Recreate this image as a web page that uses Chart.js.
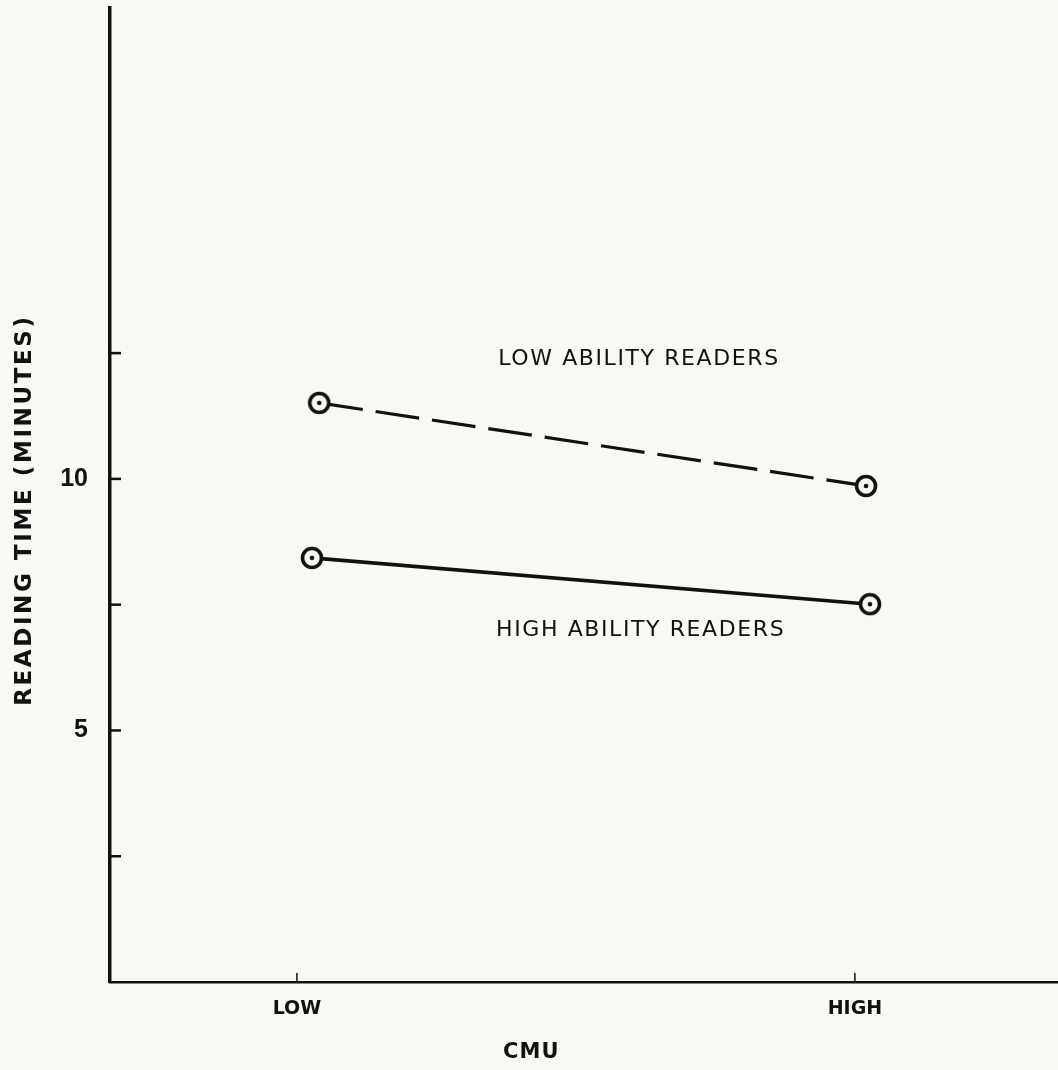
<!DOCTYPE html>
<html>
<head>
<meta charset="utf-8">
<script src="https://cdn.jsdelivr.net/npm/chart.js@4"></script>
<style>
  html, body { margin: 0; padding: 0; background: #f8f8f7; }
  #wrap { width: 1058px; height: 1070px; }
</style>
</head>
<body>
<div id="wrap"><canvas id="readingChart" width="1058" height="1070"></canvas></div>
<script>
// --- DATA ---
const cmuLevels = ['LOW', 'HIGH'];          // x tick labels at 1 and 2
const cmuTickValues = [1, 2];
const lowAbilityX = [1.04, 2.02];
const lowAbilityY = [11.51, 9.86];
const highAbilityX = [1.027, 2.027];
const highAbilityY = [8.43, 7.51];
const yTickValues = [2.5, 5, 7.5, 10, 12.5];
const yLabelValues = [5, 10];

const INK = '#111';
const PAPER = '#f8f8f7';

// circle with a dot in the middle
function makeMarker() {
  const c = document.createElement('canvas');
  c.width = 28; c.height = 28;
  const g = c.getContext('2d');
  g.beginPath();
  g.arc(14, 14, 9.5, 0, Math.PI * 2);
  g.fillStyle = PAPER;
  g.fill();
  g.lineWidth = 3.6;
  g.strokeStyle = INK;
  g.stroke();
  g.beginPath();
  g.arc(14, 14, 2.3, 0, Math.PI * 2);
  g.fillStyle = INK;
  g.fill();
  return c;
}
const marker = makeMarker();

// inward tick marks, axis titles and series labels
const handDrawn = {
  id: 'handDrawn',
  afterDatasetsDraw(chart) {
    const { ctx, scales: { x, y }, chartArea } = chart;
    ctx.save();
    ctx.strokeStyle = INK;
    ctx.lineWidth = 2.5;
    yTickValues.forEach(v => {
      const py = y.getPixelForValue(v);
      ctx.beginPath();
      ctx.moveTo(chartArea.left, py);
      ctx.lineTo(chartArea.left + 11, py);
      ctx.stroke();
    });
    ctx.lineWidth = 1.5;
    cmuTickValues.forEach(v => {
      const px = x.getPixelForValue(v);
      ctx.beginPath();
      ctx.moveTo(px, chartArea.bottom);
      ctx.lineTo(px, chartArea.bottom - 9);
      ctx.stroke();
    });
    ctx.fillStyle = INK;
    ctx.textAlign = 'center';
    ctx.textBaseline = 'middle';
    ctx.font = '22px "DejaVu Sans"';
    ctx.letterSpacing = '1.6px';
    ctx.fillText('LOW ABILITY READERS', x.getPixelForValue(1.613), y.getPixelForValue(12.37));
    ctx.fillText('HIGH ABILITY READERS', x.getPixelForValue(1.616), y.getPixelForValue(6.99));
    ctx.font = '600 21px "DejaVu Sans"';
    ctx.letterSpacing = '1px';
    ctx.fillText('CMU', x.getPixelForValue(1.42), 1053);
    ctx.translate(25, y.getPixelForValue(9.38));
    ctx.rotate(-Math.PI / 2);
    ctx.font = 'bold 23px "DejaVu Sans"';
    ctx.letterSpacing = '2.6px';
    ctx.fillText('READING TIME (MINUTES)', 0, 0);
    ctx.restore();
  }
};

const ctx = document.getElementById('readingChart').getContext('2d');
new Chart(ctx, {
  type: 'line',
  data: {
    datasets: [
      {
        label: 'Low ability readers',
        data: lowAbilityX.map((v, i) => ({ x: v, y: lowAbilityY[i] })),
        borderColor: INK,
        borderWidth: 3.2,
        borderDash: [44, 13],
        pointStyle: marker,
        pointRadius: 11
      },
      {
        label: 'High ability readers',
        data: highAbilityX.map((v, i) => ({ x: v, y: highAbilityY[i] })),
        borderColor: INK,
        borderWidth: 3.6,
        pointStyle: marker,
        pointRadius: 11
      }
    ]
  },
  options: {
    responsive: false,
    animation: false,
    layout: { autoPadding: false, padding: { top: 8, right: 0, left: 0, bottom: 0 } },
    plugins: { legend: { display: false }, tooltip: { enabled: false } },
    scales: {
      x: {
        type: 'linear',
        min: 0.665,
        max: 2.364,
        afterBuildTicks: s => { s.ticks = cmuTickValues.map(v => ({ value: v })); },
        afterFit: s => { s.height = 88; s.paddingLeft = 0; s.paddingRight = 0; },
        grid: { display: false, drawTicks: false },
        border: { color: INK, width: 2.5 },
        ticks: {
          color: INK,
          padding: 16,
          font: { family: 'DejaVu Sans', size: 19, weight: 'bold' },
          callback: v => cmuLevels[cmuTickValues.indexOf(v)]
        }
      },
      y: {
        min: 0,
        max: 19.36,
        afterBuildTicks: s => { s.ticks = yLabelValues.map(v => ({ value: v })); },
        afterFit: s => { s.width = 110; s.paddingTop = 0; s.paddingBottom = 0; },
        grid: { display: false, drawTicks: false },
        border: { color: INK, width: 3.5 },
        ticks: {
          color: INK,
          padding: 22,
          font: { family: 'Liberation Sans', size: 25, weight: 'bold' }
        }
      }
    }
  },
  plugins: [handDrawn]
});
</script>
</body>
</html>
